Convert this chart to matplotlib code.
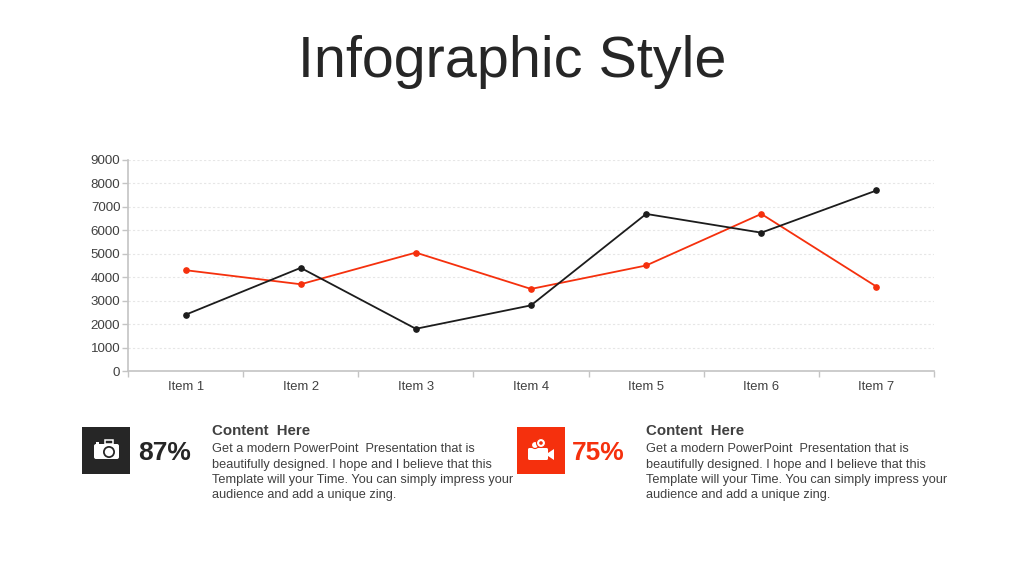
# -*- coding: utf-8 -*-
import matplotlib
matplotlib.use('Agg')
import matplotlib.pyplot as plt
from matplotlib.patches import Rectangle, Circle, Polygon, FancyBboxPatch

# part 1 ---------- data ---------- #
items = ['Item 1', 'Item 2', 'Item 3', 'Item 4', 'Item 5', 'Item 6', 'Item 7']
series_red = [4300, 3700, 5050, 3500, 4500, 6700, 3600]
series_black = [2400, 4400, 1800, 2800, 6700, 5900, 7700]
y_ticks = [0, 1000, 2000, 3000, 4000, 5000, 6000, 7000, 8000, 9000]
title = 'Infographic Style'
heading = 'Content  Here'
body = ['Get a modern PowerPoint  Presentation that is',
        'beautifully designed. I hope and I believe that this',
        'Template will your Time. You can simply impress your',
        'audience and add a unique zing.']
pct_left = '87%'
pct_right = '75%'

RED = '#f5300d'
DARK = '#262626'
TEXT = '#404040'
W, H = 1024, 575

plt.rcParams['font.family'] = ['Liberation Sans', 'DejaVu Sans']
fig = plt.figure(figsize=(W / 100, H / 100), dpi=100, facecolor='white')

# part 2 ---------- chart ---------- #
ax = fig.add_axes([128 / W, 1 - 371 / H, 806 / W, 211 / H])
x = list(range(len(items)))
ax.plot(x, series_red, color=RED, lw=1.3, marker='o', ms=3.8, zorder=3)
ax.plot(x, series_black, color='#1c1c1c', lw=1.3, marker='o', ms=3.8, zorder=4)
ax.set_xlim(-0.5, len(items) - 0.5)
ax.set_ylim(0, 9000)
ax.set_yticks(y_ticks)
ax.set_xticks(x)
ax.set_xticklabels(items)
ax.set_xticks([i - 0.5 for i in range(len(items) + 1)], minor=True)
ax.tick_params(axis='y', length=4.5, width=1, color='#c4c4c4', labelcolor=TEXT, labelsize=9.6, pad=1)
ax.tick_params(axis='x', which='major', length=0, labelcolor=TEXT, labelsize=9.4, pad=7.5)
ax.tick_params(axis='x', which='minor', length=4, width=1, color='#c4c4c4')
ax.yaxis.grid(True, color='#e6e6e6', lw=0.8, ls=(0, (2, 2)))
ax.set_axisbelow(True)
for side in ['top', 'right']:
    ax.spines[side].set_visible(False)
for side in ['left', 'bottom']:
    ax.spines[side].set_color('#c4c4c4')
    ax.spines[side].set_linewidth(1.2)

# part 3 ---------- overlay in pixel coordinates ---------- #
ov = fig.add_axes([0, 0, 1, 1], facecolor='none')
ov.set_xlim(0, W)
ov.set_ylim(H, 0)
ov.axis('off')

ov.text(512.5, 62, title, fontsize=41.4, color=DARK, ha='center', va='center')


def camera(cx, cy):
    ov.add_patch(FancyBboxPatch((cx - 12, cy - 6), 25, 15, boxstyle='round,pad=0,rounding_size=2', fc='white', ec='none'))
    ov.add_patch(Rectangle((cx - 1, cy - 10), 8, 4, fc='none', ec='white', lw=1.1))
    ov.add_patch(Rectangle((cx - 10, cy - 8), 3, 2, fc='white', ec='none'))
    ov.add_patch(Circle((cx + 3, cy + 2), 6, fc=DARK, ec='none'))
    ov.add_patch(Circle((cx + 3, cy + 2), 4.2, fc='white', ec='none'))


def video(cx, cy):
    ov.add_patch(FancyBboxPatch((cx - 13, cy - 2), 20, 12, boxstyle='round,pad=0,rounding_size=1.5', fc='white', ec='none'))
    ov.add_patch(Polygon([(cx + 7, cy + 3), (cx + 13, cy - 1), (cx + 13, cy + 10), (cx + 7, cy + 6)], fc='white', ec='none'))
    ov.add_patch(Circle((cx - 6, cy - 5), 3.5, fc='white', ec=RED, lw=0.8))
    ov.add_patch(Circle((cx, cy - 7), 4.5, fc='white', ec=RED, lw=0.8))
    ov.add_patch(Circle((cx, cy - 7), 1.8, fc=RED, ec='none'))


def block(x0, box_color, pct, pct_color, icon, text_x, pct_x):
    ov.add_patch(Rectangle((x0, 427), 48, 47, fc=box_color, ec='none'))
    icon(x0 + 24, 450)
    ov.text(pct_x, 453, pct, fontsize=19, fontweight='bold', color=pct_color, ha='left', va='center')
    ov.text(text_x, 435, heading, fontsize=10.8, fontweight='bold', color=TEXT, ha='left', va='baseline')
    for i, line in enumerate(body):
        ov.text(text_x, 452.5 + i * 15.2, line, fontsize=9.2, color=TEXT, ha='left', va='baseline')


block(82, DARK, pct_left, DARK, camera, 212, 138)
block(517, RED, pct_right, RED, video, 646, 572)

fig.savefig('out.png', dpi=100)
